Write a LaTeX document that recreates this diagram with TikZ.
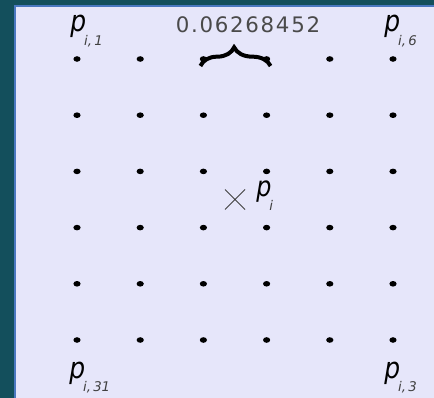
\documentclass[tikz,border=0pt]{standalone}
\usepackage{fontspec}
\setmainfont{DejaVu Sans}
\usepackage{tikz}
\usetikzlibrary{decorations.pathreplacing, calc}
\usepackage{xcolor}
\definecolor{deepteal}{HTML}{134F5C}
\definecolor{paneblue}{HTML}{4A78C0}
\definecolor{lavpane}{HTML}{E6E6FA}
\definecolor{sublabel}{HTML}{404040}
\definecolor{widthgrey}{HTML}{4A4A4A}

\newcommand{\ptag}[1]{\scalebox{0.85}[1]{\textit{p}}\kern-1.5pt\raisebox{-10pt}{\fontsize{10}{10}\selectfont\color{sublabel}\itshape #1}}

\tikzset{
    gridpt/.style={fill=black},
    ptlabel/.style={anchor=base west, inner sep=0pt, font=\fontsize{22}{24}\selectfont},
    widthlabel/.style={inner sep=0pt, text=widthgrey, font=\fontsize{16}{18}\selectfont\addfontfeature{LetterSpace=8}}
}

\begin{document}
\begin{tikzpicture}[x=0.75pt, y=-0.75pt]
                \useasboundingbox (0,0) rectangle (434,398);
                \fill[deepteal] (0,0) rectangle (434,398);
                \fill[lavpane] (15,6) rectangle (440,404);
                \draw[paneblue, line width=1.5] (15,404) |- (440,6);

                \foreach \r in {1,...,6} {
                    \foreach \c in {1,...,6} {
                        \coordinate (d-\r-\c) at ({77+63.2*(\c-1)}, {59+56.2*(\r-1)});
                        \fill[gridpt] (d-\r-\c) ellipse [x radius=3.6, y radius=2.8];
                    }
                }

                \node[ptlabel] (p1) at (70,32) {\ptag{i,\,1}};
                \node[ptlabel] (p6) at (384,32) {\ptag{i,\,6}};
                \node[ptlabel] (p31) at (69,378) {\ptag{i,\,31}};
                \node[ptlabel] (p36) at (384,378) {\ptag{i,\,3}};

                \node[widthlabel] (gap) at (248,25) {0.06268452};
                \draw[line width=3pt, decorate, decoration={brace, amplitude=14pt, aspect=0.48}]
                    ($(d-1-3)+(-3,7)$) -- ($(d-1-4)+(4,7)$);

                \coordinate (ctr) at ($(d-3-3)!0.5!(d-4-4)$);
                \draw[sublabel, line width=0.7] ($(ctr)+(-10,-10)$) -- ($(ctr)+(10,10)$)
                    ($(ctr)+(-10,10)$) -- ($(ctr)+(10,-10)$);
                \node[ptlabel, font=\fontsize{21}{22}\selectfont] (pc) at (256,197) {\ptag{i}};
            \end{tikzpicture}
\end{document}
